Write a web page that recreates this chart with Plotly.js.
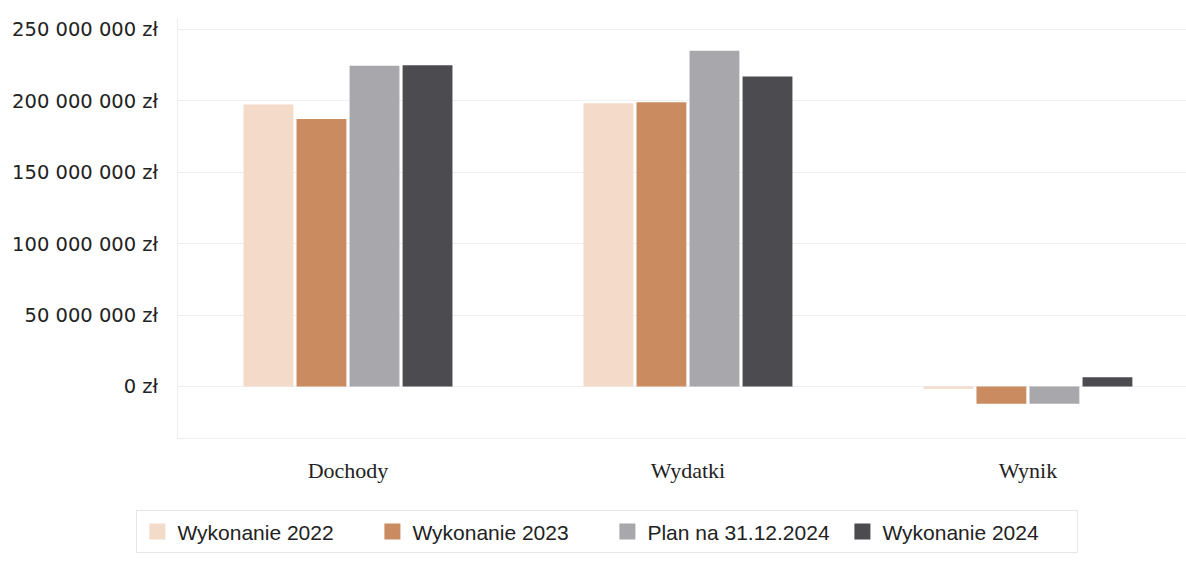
<!DOCTYPE html>
<html><head><meta charset="utf-8">
<script src="https://cdn.plot.ly/plotly-3.0.1.min.js"></script>
<style>html,body{margin:0;padding:0;background:#fff}#c{width:1186px;height:564px}</style>
</head><body><div id="c"></div>
<script>
const categories = ["Dochody", "Wydatki", "Wynik"];
const seriesNames = ["Wykonanie 2022", "Wykonanie 2023", "Plan na 31.12.2024", "Wykonanie 2024"];
const wyk2022 = [197500000, 198300000, -1500000];
const wyk2023 = [187300000, 199000000, -12000000];
const plan2024 = [224500000, 235000000, -12000000];
const wyk2024 = [225000000, 217000000, 6500000];
const tickValues = [0, 50000000, 100000000, 150000000, 200000000, 250000000];
const colors = ["#f4dac9", "#c98b5f", "#a8a7ac", "#4b4b50"];

function fmtZl(v) {
  return String(Math.round(v)).replace(/\B(?=(\d{3})+(?!\d))/g, " ") + " zł";
}
const tickText = tickValues.map(fmtZl);

const series = [wyk2022, wyk2023, plan2024, wyk2024];
const traces = series.map((vals, i) => ({
  type: "bar", x: categories, y: vals, name: seriesNames[i],
  marker: {color: colors[i], line: {width: 0}},
  showlegend: false, hoverinfo: "none"
}));
const legendTraces = seriesNames.map((n, i) => ({
  type: "scatter", mode: "markers", x: [null], y: [null], name: n,
  marker: {symbol: "square", size: 26, color: colors[i], line: {width: 0}},
  showlegend: true, hoverinfo: "none"
}));

const layout = {
  width: 1186, height: 564,
  margin: {l: 178, r: 0, t: 18, b: 126},
  paper_bgcolor: "#fff", plot_bgcolor: "#fff",
  barmode: "group", bargap: 0.376, bargroupgap: 0.06,
  font: {family: "DejaVu Sans, sans-serif", color: "#222"},
  xaxis: {
    range: [-0.5, 2.465], showgrid: false, zeroline: false,
    showline: true, linecolor: "#eeeeee", linewidth: 1,
    ticks: "", ticklabelstandoff: 13,
    tickfont: {family: "Liberation Serif, serif", size: 22, color: "#222"}
  },
  yaxis: {
    range: [-36000000, 258000000], tickmode: "array", tickvals: tickValues, ticktext: tickText,
    showgrid: true, gridcolor: "#efefef", zeroline: false,
    showline: true, linecolor: "#eeeeee", linewidth: 1,
    ticks: "", ticklabelstandoff: 15,
    tickfont: {family: "DejaVu Sans, sans-serif", size: 19.5, color: "#222"}
  },
  showlegend: true,
  legend: {
    orientation: "h", x: 0.426, xanchor: "center", xref: "paper", yref: "paper",
    y: -0.172, yanchor: "top",
    bordercolor: "#e6e6e6", borderwidth: 1, bgcolor: "#fff",
    font: {family: "Liberation Sans Narrow, Liberation Sans, sans-serif", size: 21, color: "#222"},
    entrywidth: 190, entrywidthmode: "pixels",
    traceorder: "normal"
  }
};
Plotly.newPlot("c", traces.concat(legendTraces), layout, {staticPlot: true, displayModeBar: false});
</script></body></html>
